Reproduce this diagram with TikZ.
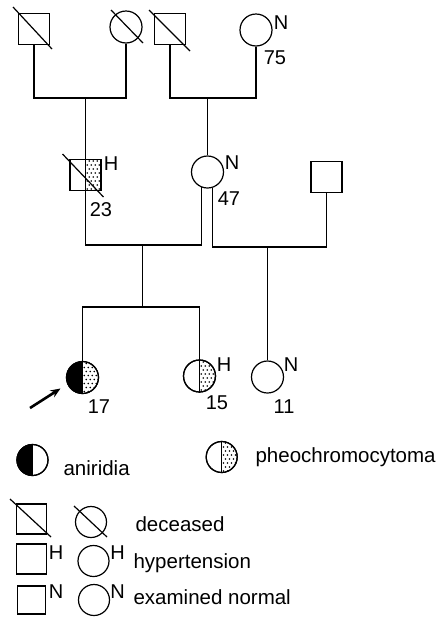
\documentclass[tikz,border=0pt]{standalone}
\usepackage{fontspec}
\setmainfont{Liberation Sans}
\usetikzlibrary{calc,arrows.meta}
\tikzset{
  x=1pt, y=-1pt,
  male/.style={draw, rectangle, minimum size=31pt, inner sep=0pt, line width=1.2pt},
  female/.style={draw, circle, minimum size=32pt, inner sep=0pt, line width=1.2pt},
  lbl/.style={inner sep=0pt, font=\fontsize{20}{24}\selectfont},
  legtxt/.style={inner sep=0pt, anchor=base west, font=\fontsize{20.5}{25}\selectfont},
  conn/.style={line width=1.3pt},
}
\newcommand\dotgrid[1]{%
  \foreach \r in {0,...,9}{%
    \foreach \c in {0,...,5}{%
      \pgfmathsetmacro\dx{\c*4+1.8+2*mod(\r,2)}%
      \pgfmathsetmacro\dy{\r*4-18}%
      \fill ($(#1.center)+(\dx,\dy)$) circle[radius=0.9pt];
    }%
  }%
}
\newcommand\circdots[1]{%
  \begin{scope}
    \clip (#1.center) circle[radius=15.5pt];
    \clip ($(#1.center)+(0,-20)$) rectangle ($(#1.center)+(20,20)$);
    \dotgrid{#1}
  \end{scope}}
\newcommand\sqdots[1]{%
  \begin{scope}
    \clip (#1.north) rectangle (#1.south east);
    \dotgrid{#1}
  \end{scope}}
\newcommand\circblack[1]{%
  \begin{scope}
    \clip (#1.center) circle[radius=16pt];
    \fill ($(#1.center)+(-20,-20)$) rectangle ($(#1.center)+(0,20)$);
  \end{scope}}
\begin{document}
\begin{tikzpicture}[line width=1.2pt]
\useasboundingbox (0,0) rectangle (446,619);

% Generation I
\node[male] (i1) at (34,29) {};
\node[female] (i2) at (126,27) {};
\node[male] (i3) at (170,29) {};
\node[female] (i4) at (256,30) {};
\draw ($(i1.center)+(-21,-22)$) -- ($(i1.center)+(18,20)$);
\draw ($(i2.center)+(-15,-17)$) -- ($(i2.center)+(17,16)$);
\draw ($(i3.center)+(-21,-19)$) -- ($(i3.center)+(20,22)$);
\node[lbl] (n75) at (281,23) {N};
\node[lbl] (a75) at (275,57.5) {75};

\coordinate (m0) at (85.5,98);
\coordinate (m00) at (207.5,98);
\draw[conn] (i1.south) |- (m0) -| (i2.south);
\draw[conn] (i3.south) |- (m00) -| (i4.south);

% Generation II
\node[male] (ii1) at (85.5,175) {};
\sqdots{ii1}
\node[male] (ii1b) at (85.5,175) {};
\draw ($(ii1.center)+(-23,-21)$) -- ($(ii1.center)+(18,22)$);
\draw (ii1.north) -- (ii1.south);
\node[lbl] (h23) at (111,164) {H};
\node[lbl] (a23) at (101,209.5) {23};

\node[female] (ii2) at (207.5,172) {};
\node[lbl] (n47) at (232,162.5) {N};
\node[lbl] (a47) at (229,199) {47};

\node[male] (ii3) at (326.5,177) {};

\draw[conn] (m0) -- (ii1.north);
\draw[conn] (m00) -- (ii2.north);

\coordinate (m1) at (142.5,245);
\coordinate (m2) at (267.5,247);
\draw[conn] (ii1.south) |- (m1) -| (ii2.-112);
\draw[conn] (ii2.-72) |- (m2) -| (ii3.south);

% Generation III
\node[female] (iii1) at (82.5,377.5) {};
\circblack{iii1}
\circdots{iii1}
\node[female] (iii1b) at (82.5,377.5) {};
\node[lbl] (a17) at (99,407) {17};
\coordinate (arr) at (30,408);
\draw[line width=2.6pt, -{Stealth[length=10pt,width=8pt]}] (arr) -- ($(iii1.center)+(-22,11)$);

\node[female] (iii2) at (199.5,376) {};
\circdots{iii2}
\node[female] (iii2b) at (199.5,376) {};
\draw (iii2.north) -- (iii2.south);
\node[lbl] (h15) at (224,365) {H};
\node[lbl] (a15) at (217,403) {15};

\node[female] (iii3) at (267.5,377) {};
\node[lbl] (n11) at (291,364.5) {N};
\node[lbl] (a11) at (284,407) {11};

\coordinate (s1) at (142.5,307);
\draw[conn] (m1) -- (s1);
\draw[conn] (iii1.north) |- (s1) -| (iii2.north);
\draw[conn] (m2) -- (iii3.north);

% Legend
\node[female, minimum size=31pt] (L1) at (32.5,460) {};
\circblack{L1}
\node[female, minimum size=31pt] (L1b) at (32.5,460) {};
\node[legtxt] (t1) at (63,475) {aniridia};

\node[female, minimum size=31pt] (L2) at (221.7,457) {};
\circdots{L2}
\node[female, minimum size=31pt] (L2b) at (221.7,457) {};
\draw (L2.north) -- (L2.south);
\node[legtxt] (t2) at (255,462) {pheochromocytoma};

\node[male, minimum size=30pt] (L3) at (31.5,519) {};
\draw ($(L3.center)+(-21.5,-20)$) -- ($(L3.center)+(19.5,18)$);
\node[female, minimum size=31pt] (L4) at (91,522) {};
\draw ($(L4.center)+(-17,-16)$) -- ($(L4.center)+(16,15)$);
\node[legtxt] (t3) at (135,531) {deceased};

\node[male, minimum size=30pt] (L5) at (31.5,559) {};
\node[lbl] (L5h) at (56,553) {H};
\node[female, minimum size=31pt] (L6) at (93.5,561) {};
\node[lbl] (L6h) at (117.5,553) {H};
\node[legtxt] (t4) at (133,568) {hypertension};

\node[male, minimum size=28pt] (L7) at (31.5,600) {};
\node[lbl] (L7n) at (56,592) {N};
\node[female, minimum size=31pt] (L8) at (94,600) {};
\node[lbl] (L8n) at (117.5,592) {N};
\node[legtxt] (t5) at (133,604) {examined normal};
\end{tikzpicture}
\end{document}
